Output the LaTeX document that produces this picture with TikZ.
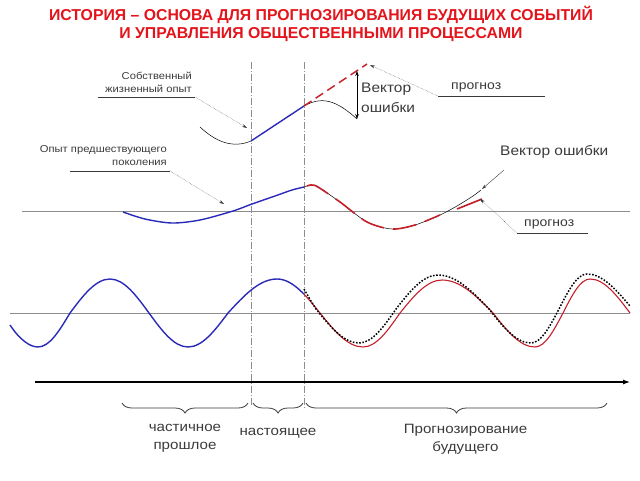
\documentclass[tikz,border=0pt]{standalone}
\usepackage{fontspec}
\setmainfont{Liberation Sans}[FakeStretch=1.12]
\newfontfamily\titlefont{Liberation Sans}
\usetikzlibrary{arrows.meta,positioning,calc,decorations.pathreplacing}
\definecolor{histred}{HTML}{E3141B}
\definecolor{wavered}{HTML}{C4202A}
\definecolor{histblue}{HTML}{2A2AB8}
\definecolor{histgray}{HTML}{8C8C8C}
\definecolor{histtext}{HTML}{3A3A3A}

\begin{document}
\begin{tikzpicture}[x=1pt,y=-1pt,
    lbl/.style={font=\fontsize{10}{13}\selectfont, text=histtext, inner sep=1pt},
    biglbl/.style={font=\fontsize{13.5}{18}\selectfont, text=histtext, align=center, inner sep=1pt},
    baseline/.style={draw=histgray, line width=0.8pt},
    nowline/.style={draw=histgray, line width=0.6pt, dash pattern=on 7pt off 2pt on 1pt off 2pt},
    underline/.style={draw=histtext, line width=0.5pt},
    leader/.style={draw=histtext, line width=0.4pt, densely dotted, -{Stealth[length=5pt,width=3pt]}},
    past/.style={draw=histblue, line width=1.4pt},
    oldcurve/.style={draw=black, line width=0.5pt},
    forecast/.style={draw=wavered, line width=1.6pt},
    brace/.style={decorate, decoration={brace, mirror, amplitude=10pt}, line width=0.8pt, draw=histtext},
]
    \useasboundingbox (0,0) rectangle (640,480);

    % title
    \node[font=\titlefont\bfseries\fontsize{15.8}{18}\selectfont, text=histred, align=center] (title) at (321,24)
        {ИСТОРИЯ – ОСНОВА ДЛЯ ПРОГНОЗИРОВАНИЯ БУДУЩИХ СОБЫТИЙ\\И УПРАВЛЕНИЯ ОБЩЕСТВЕННЫМИ ПРОЦЕССАМИ};

    % reference lines
    \draw[baseline] (22,211) -- (630,211);
    \draw[baseline] (10,313) -- (630,313);
    \draw[nowline] (251,62) -- (251,406);
    \draw[nowline] (304,62) -- (304,408);

    % own experience (top)
    \draw[oldcurve] (200,127) .. controls (215,141) and (232,149) .. (251,141);
    \draw[past] (251,141) -- (304,106);
    \draw[oldcurve] (304,106) .. controls (322,96) and (336,100) .. (357,119);
    \draw[forecast, line width=1.5pt, dash pattern=on 9pt off 5pt] (304,106) -- (367,64);
    \draw[{Stealth[length=5pt,width=3.5pt]}-{Stealth[length=5pt,width=3.5pt]}, line width=0.5pt] (357,71) -- (357,119);
    \node[lbl, font=\fontsize{13.8}{19.5}\selectfont, align=left, anchor=west] (errtop) at (360,98) {Вектор\\ошибки};

    \node[lbl, align=right, anchor=south east] (ownexp) at (193,94) {Собственный\\жизненный опыт};
    \coordinate (ownfoot) at (195,97);
    \coordinate (owntip) at (247,128);
    \draw[underline] (ownfoot) -- ++(-97,0);
    \draw[leader] (ownfoot) -- (owntip);

    \node[lbl, font=\fontsize{12.5}{14}\selectfont, anchor=south west] (progtop) at (450,93) {прогноз};
    \coordinate (progtopfoot) at (438,96);
    \coordinate (progtoptip) at (370,65);
    \draw[underline] (progtopfoot) -- ++(107,0);
    \draw[leader] (progtopfoot) -- (progtoptip);

    % previous generation (middle)
    \draw[past] plot[smooth] coordinates {(123,212) (145,219) (172,223) (200,220) (233,211) (252,204) (275,196) (292,190) (304,187)};
    \def\midcurve{(304,187) (311,185) (318,187) (340,202) (367,222) (392,229) (415,225) (440,215) (457,206) (473,196) (481,190)}
    \draw[oldcurve] plot[smooth] coordinates \midcurve;
    \draw[forecast, dash pattern=on 24pt off 9pt, dash phase=30pt] plot[smooth] coordinates {(304,187) (311,185) (318,187) (340,202) (367,222) (392,229) (415,225) (440,215)};
    \draw[forecast] (457,209) -- (482,199);

    \node[lbl, align=right, anchor=south east] (prevgen) at (168,167) {Опыт предшествующего\\поколения};
    \coordinate (prevfoot) at (170,171);
    \coordinate (prevtip) at (224,204);
    \draw[underline] (prevfoot) -- ++(-100,0);
    \draw[leader] (prevfoot) -- (prevtip);

    \node[lbl, font=\fontsize{13.8}{15}\selectfont, anchor=west] (errmid) at (499,152) {Вектор ошибки};
    \coordinate (errmidfoot) at (504,170);
    \coordinate (errmidtip) at (482,189);
    \draw[leader, solid] (errmidfoot) -- (errmidtip);

    \node[lbl, font=\fontsize{12.5}{14}\selectfont, anchor=south west] (progmid) at (523,230) {прогноз};
    \coordinate (progmidfoot) at (517,233);
    \coordinate (progmidtip) at (480,199);
    \draw[underline] (progmidfoot) -- ++(71,0);
    \draw[leader] (progmidfoot) -- (progmidtip);

    % long wave (bottom)
    \draw[past] (10,325) .. controls (20,340) and (30,347) .. (38,347) cos (70,313) sin (110,279) cos (149,313) sin (188,347) cos (228,313) sin (277,279)
        -- plot[domain=277:304, samples=12] (\x, {313-34*cos(90*(\x-277)/43)});
    \draw[draw=wavered, line width=1.1pt] plot[domain=304:320, samples=8] (\x, {313-34*cos(90*(\x-277)/43)})
        sin (363,347) cos (400,313) sin (442,280) cos (493,313) sin (535,347) cos (563,313) sin (590,279) cos (630,313);
    \draw[line width=1.5pt, dash pattern=on 1.6pt off 1.6pt] (304,289) .. controls (308,296) and (312,303) .. (316,309)
        sin (359,343) cos (396,309) sin (438,275) cos (489,309) sin (531,343) cos (559,309) sin (587,274) cos (630,306);

    % time axis
    \draw[line width=1.2pt, -{Latex[length=7pt,width=5pt]}] (35,382) coordinate (axstart) -- (630,382) coordinate (axend);

    \draw[brace] (122,403) -- node[biglbl, below=20pt] (partial) {частичное\\прошлое} (248,403);
    \draw[brace] (253,403) -- node[biglbl, below=24pt] (present) {настоящее} (303,403);
    \draw[brace] (306,403) -- node[biglbl, below=20pt, xshift=9pt] (future) {Прогнозирование\\будущего} (607,403);
\end{tikzpicture}
\end{document}
